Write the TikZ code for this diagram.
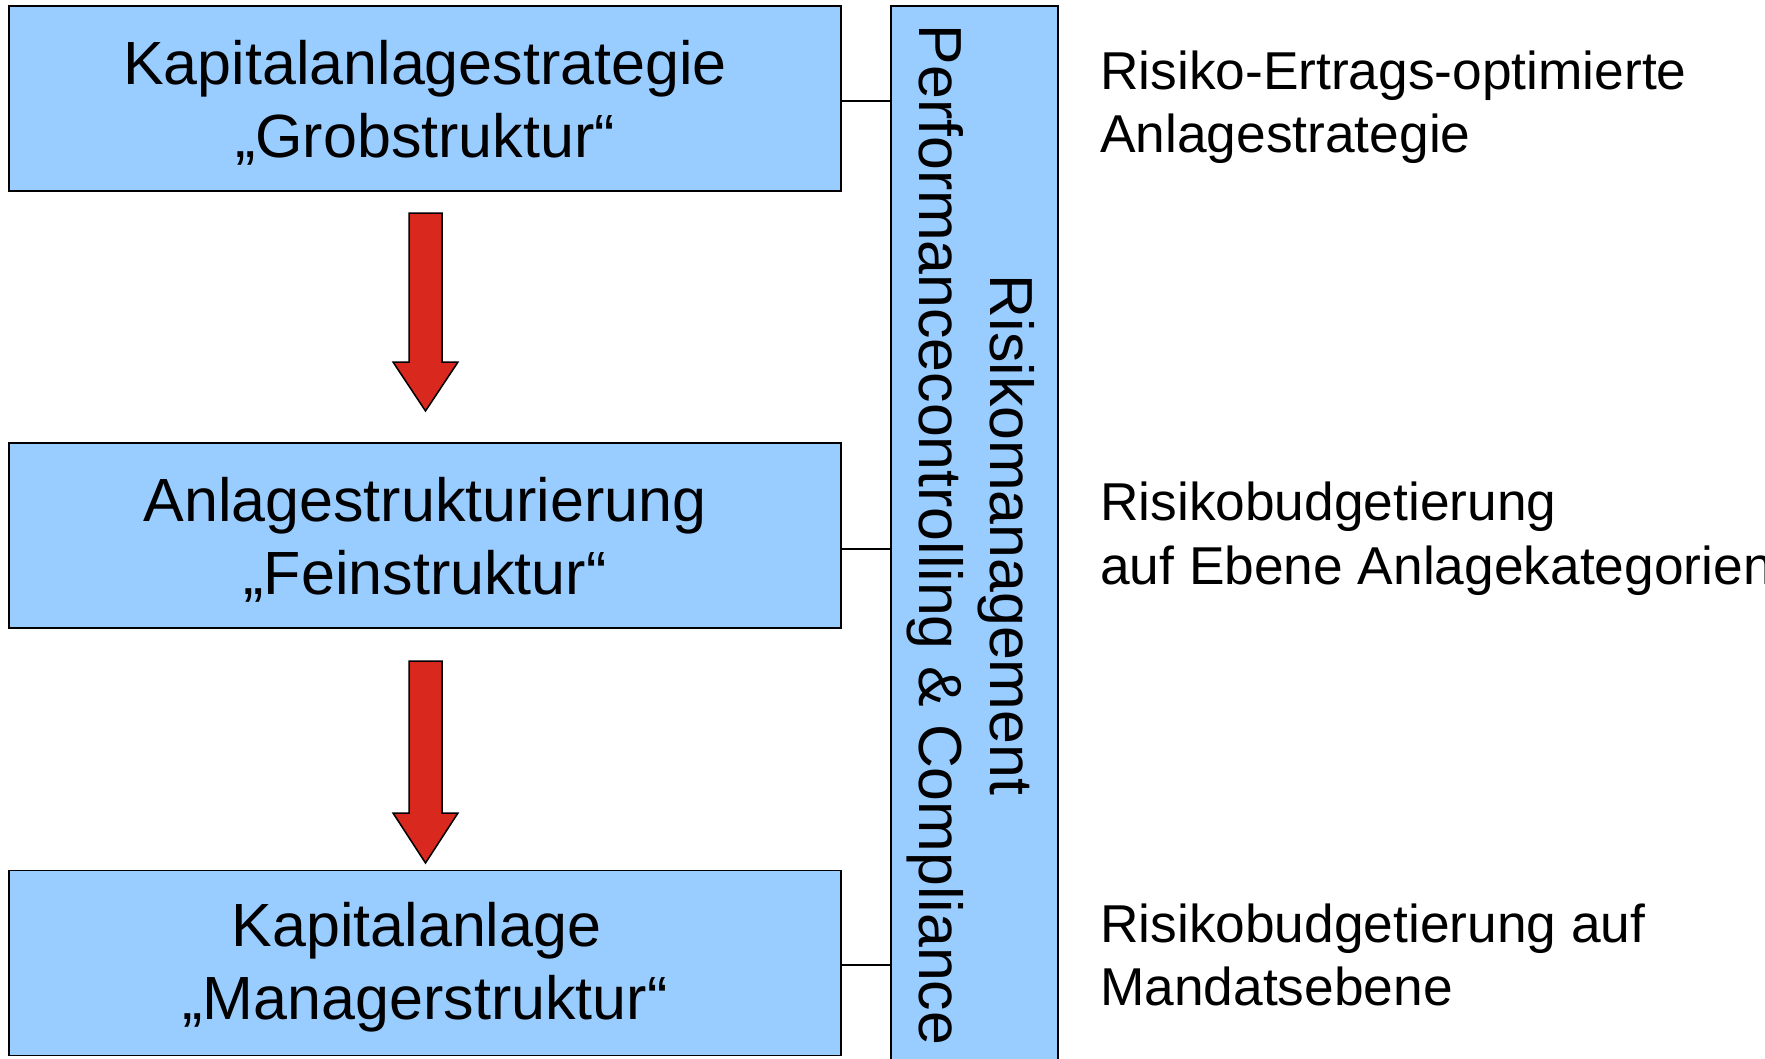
\documentclass[tikz,border=0pt]{standalone}
\usepackage{fontspec}
\setmainfont{Liberation Sans}
\definecolor{boxblue}{RGB}{153,204,255}
\definecolor{arrred}{RGB}{217,40,30}
\begin{document}
\begin{tikzpicture}[x=1pt,y=-1pt,
  box/.style={draw=black, line width=1.5pt, fill=boxblue, inner sep=0pt,
    minimum width=832pt, minimum height=185pt},
  boxtext/.style={inner sep=0pt, align=center,
    font=\fontsize{61}{73}\selectfont},
  barbox/.style={draw=black, line width=1.5pt, fill=boxblue, inner sep=0pt,
    minimum width=167pt, minimum height=1056pt},
  rottext/.style={rotate=-90, anchor=base, inner sep=0pt,
    font=\fontsize{60.8}{73}\selectfont},
  sidetext/.style={anchor=base west, inner sep=0pt,
    font=\fontsize{53.3}{63}\selectfont},
  link/.style={draw=black, line width=1.2pt},
  bigarrow/.style={draw=black, line width=1.5pt, fill=arrred, line join=miter}
]
\useasboundingbox (0,0) rectangle (1765,1058);
\clip (0,0) rectangle (1765,1058);
\fill[white] (0,0) rectangle (1765,1058);

% boxes
\node[box] (b1) at (425,98.5) {};
\node[box] (b2) at (425,535.5) {};
\node[box] (b3) at (425,963) {};
\node[boxtext] (b1t) at ([yshift=-4.5pt]b1.center) {Kapitalanlagestrategie\\„Grobstruktur“};
\node[boxtext] (b2t) at ([yshift=-4.5pt]b2.center) {Anlagestrukturierung\\„Feinstruktur“};
\node[boxtext] (b3t) at ([yshift=-4.5pt]b3.center) {Kapitalanlage\kern17pt\\„Managerstruktur“};

% vertical bar
\node[barbox] (bar) at (974.5,534) {};
\node[rottext] (risk) at (990,535) {Risikomanagement};
\node[rottext] (perf) at (919,535) {Performancecontrolling \& Compliance};

% connectors
\coordinate (c1) at (841,101);
\coordinate (c2) at (841,549);
\coordinate (c3) at (841,965);
\draw[link] (c1) -- (c1 -| bar.west);
\draw[link] (c2) -- (c2 -| bar.west);
\draw[link] (c3) -- (c3 -| bar.west);

% red arrows
\draw[bigarrow] (409,213) -- (442,213) -- (442,362) -- (458,362) -- (425.5,411) -- (393,362) -- (409,362) -- cycle;
\draw[bigarrow] (409,661) -- (442,661) -- (442,813) -- (458,813) -- (425.5,863) -- (393,813) -- (409,813) -- cycle;

% side texts
\node[sidetext] (t1a) at (1100,89) {Risiko-Ertrags-optimierte};
\node[sidetext] (t1b) at (1100,152) {Anlagestrategie};
\node[sidetext] (t2a) at (1100,520) {Risikobudgetierung};
\node[sidetext] (t2b) at (1100,584) {auf Ebene Anlagekategorien};
\node[sidetext] (t3a) at (1100,942) {Risikobudgetierung auf};
\node[sidetext] (t3b) at (1100,1005) {Mandatsebene};
\end{tikzpicture}
\end{document}
